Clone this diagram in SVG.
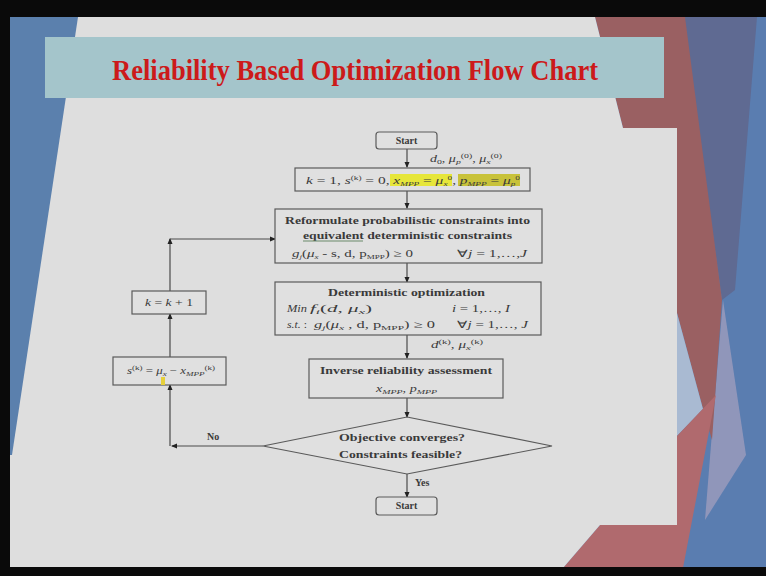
<svg xmlns="http://www.w3.org/2000/svg" width="766" height="576" viewBox="0 0 766 576">
<style>
.t{font-family:"Liberation Serif","Times New Roman",serif;fill:#3a3a3a;font-size:10px}
.b{font-weight:bold}
.i{font-style:italic}
.box{fill:#e0e0e0;stroke:#5a5a5a;stroke-width:1.2}
.ln{fill:none;stroke:#4a4a4a;stroke-width:1.2}
</style>
<defs>
<marker id="ah" markerWidth="6" markerHeight="6" refX="5" refY="3" orient="auto" markerUnits="userSpaceOnUse">
<path d="M0,0.5 L6,3 L0,5.5 z" fill="#222"/>
</marker>
</defs>
<g id="background">
<rect x="0" y="0" width="766" height="576" fill="#5a7db0"/>
<polygon points="683,17 757,17 735,290 722,300" fill="#5f6a92"/>
<polygon points="723,300 746,455 705,520 713,420" fill="#a39fbd" opacity="0.75"/>
<polygon points="595,17 685,17 722,300 712,440 703,409 677,313 677,128 623,128" fill="#9a6062"/>
<polygon points="677,313 703,409 677,436" fill="#a9bad2"/>
<polygon points="600,525 677,525 677,436 716,395 683,568 563,568" fill="#b06a6e"/>
<polygon points="10,17 595,17 623,128 677,128 677,525 600,525 563,568 10,568" fill="#dedede"/>
<polygon points="10,17 78,17 12,455 10,455" fill="#5b80ad"/>
<rect x="0" y="0" width="766" height="17" fill="#0a0a0a"/>
<rect x="0" y="567" width="766" height="9" fill="#0a0a0a"/>
<rect x="0" y="0" width="10" height="576" fill="#0a0a0a"/>
</g>
<g id="title">
<rect x="45" y="37" width="619" height="61" fill="#a4c5cb"/>
<text x="112" y="80" font-family="Liberation Serif, Times New Roman, serif" font-weight="bold" font-size="29" fill="#cc1a1a" textLength="486" lengthAdjust="spacingAndGlyphs">Reliability Based Optimization Flow Chart</text>
</g>
<g id="connectors">
<line class="ln" x1="407" y1="149" x2="407" y2="167" marker-end="url(#ah)"/>
<line class="ln" x1="407" y1="191" x2="407" y2="208" marker-end="url(#ah)"/>
<line class="ln" x1="407" y1="263" x2="407" y2="282" marker-end="url(#ah)"/>
<line class="ln" x1="407" y1="335" x2="407" y2="358" marker-end="url(#ah)"/>
<line class="ln" x1="407" y1="398" x2="407" y2="417" marker-end="url(#ah)"/>
<line class="ln" x1="407" y1="474" x2="407" y2="497" marker-end="url(#ah)"/>
<polyline class="ln" points="263,446 172,446" marker-end="url(#ah)"/>
<line class="ln" x1="170" y1="446" x2="170" y2="385" marker-end="url(#ah)"/>
<line class="ln" x1="170" y1="357" x2="170" y2="314" marker-end="url(#ah)"/>
<line class="ln" x1="170" y1="291" x2="170" y2="239" marker-end="url(#ah)"/>
<line class="ln" x1="170" y1="239" x2="275" y2="239" marker-end="url(#ah)"/>
<text class="t" x="430" y="162" textLength="72" lengthAdjust="spacingAndGlyphs"><tspan class="i">d</tspan><tspan font-size="7" dy="2">0</tspan><tspan dy="-2">, </tspan><tspan class="i">μ</tspan><tspan font-size="7" dy="2" class="i">p</tspan><tspan font-size="7" dy="-6">(0)</tspan><tspan dy="4">, </tspan><tspan class="i">μ</tspan><tspan font-size="7" dy="2" class="i">x</tspan><tspan font-size="7" dy="-6">(0)</tspan></text>
<text class="t" x="431" y="348" textLength="52" lengthAdjust="spacingAndGlyphs"><tspan class="i">d</tspan><tspan font-size="7" dy="-4">(k)</tspan><tspan dy="4">, </tspan><tspan class="i">μ</tspan><tspan font-size="7" dy="2" class="i">x</tspan><tspan font-size="7" dy="-6">(k)</tspan></text>
<text class="t b" x="207" y="440">No</text>
<text class="t b" x="415" y="486">Yes</text>
</g>
<g id="start">
<rect class="box" x="376" y="132" width="61" height="17" rx="3"/>
<text class="t b" x="406.5" y="144" font-size="8" text-anchor="middle">Start</text>
</g>
<g id="init">
<rect class="box" x="295" y="168" width="235" height="23"/>
<rect x="390" y="174" width="62" height="12" fill="#e6e63a"/>
<rect x="458" y="174" width="62" height="12" fill="#c8c23a"/>
<text class="t" x="306" y="184" textLength="214" lengthAdjust="spacingAndGlyphs"><tspan class="i">k</tspan> = 1, <tspan class="i">s</tspan><tspan font-size="6" dy="-4">(k)</tspan><tspan dy="4"> = 0, </tspan><tspan class="i">x</tspan><tspan font-size="6" dy="2" class="i">MPP</tspan><tspan dy="-2"> = </tspan><tspan class="i">μ</tspan><tspan font-size="6" dy="2" class="i">x</tspan><tspan font-size="6" dy="-6">0</tspan><tspan dy="4">, </tspan><tspan class="i">p</tspan><tspan font-size="6" dy="2" class="i">MPP</tspan><tspan dy="-2"> = </tspan><tspan class="i">μ</tspan><tspan font-size="6" dy="2" class="i">p</tspan><tspan font-size="6" dy="-6">0</tspan></text>
</g>
<g id="reformulate">
<rect class="box" x="275" y="209" width="267" height="54"/>
<text class="t b" x="285" y="224" textLength="245" lengthAdjust="spacingAndGlyphs">Reformulate probabilistic  constraints into</text>
<text class="t b" x="303" y="239" textLength="209" lengthAdjust="spacingAndGlyphs">equivalent deterministic constraints</text>
<line x1="303" y1="241" x2="363" y2="241" stroke="#6a8a6a" stroke-width="1"/>
<text class="t" x="292" y="257" textLength="121" lengthAdjust="spacingAndGlyphs"><tspan class="i">g</tspan><tspan font-size="6" dy="2" class="i">j</tspan><tspan dy="-2">(</tspan><tspan class="i">μ</tspan><tspan font-size="6" dy="2" class="i">x</tspan><tspan dy="-2"> - s, d, p</tspan><tspan font-size="6" dy="2">MPP</tspan><tspan dy="-2">) ≥ 0</tspan></text>
<text class="t" x="457" y="257" textLength="70" lengthAdjust="spacingAndGlyphs">∀<tspan class="i">j</tspan> = 1,…,<tspan class="i">J</tspan></text>
</g>
<g id="optimize">
<rect class="box" x="275" y="282" width="266" height="53"/>
<text class="t b" x="328" y="296" textLength="157" lengthAdjust="spacingAndGlyphs">Deterministic optimization</text>
<text class="t i" x="287" y="312" textLength="20" lengthAdjust="spacingAndGlyphs">Min</text>
<text class="t" x="310" y="312" textLength="62" lengthAdjust="spacingAndGlyphs"><tspan class="i">f</tspan><tspan font-size="7" dy="2" class="i">i</tspan><tspan dy="-2">(</tspan><tspan class="i">d</tspan>, <tspan class="i">μ</tspan><tspan font-size="7" dy="2" class="i">x</tspan><tspan dy="-2">)</tspan></text>
<text class="t" x="452" y="312" textLength="58" lengthAdjust="spacingAndGlyphs"><tspan class="i">i</tspan> = 1,…, <tspan class="i">I</tspan></text>
<text class="t" x="287" y="328" textLength="20" lengthAdjust="spacingAndGlyphs"><tspan class="i">s.t.</tspan> :</text>
<text class="t" x="314" y="328" textLength="121" lengthAdjust="spacingAndGlyphs"><tspan class="i">g</tspan><tspan font-size="7" dy="2" class="i">j</tspan><tspan dy="-2">(</tspan><tspan class="i">μ</tspan><tspan font-size="7" dy="2" class="i">x</tspan><tspan dy="-2"> , d, p</tspan><tspan font-size="7" dy="2">MPP</tspan><tspan dy="-2">) ≥ 0</tspan></text>
<text class="t" x="457" y="328" textLength="71" lengthAdjust="spacingAndGlyphs">∀<tspan class="i">j</tspan> = 1,…, <tspan class="i">J</tspan></text>
</g>
<g id="inverse">
<rect class="box" x="309" y="359" width="194" height="39"/>
<text class="t b" x="320" y="374" textLength="172" lengthAdjust="spacingAndGlyphs">Inverse reliability assessment</text>
<text class="t" x="376" y="392" textLength="61" lengthAdjust="spacingAndGlyphs"><tspan class="i">x</tspan><tspan font-size="7" dy="2" class="i">MPP</tspan><tspan dy="-2">, </tspan><tspan class="i">p</tspan><tspan font-size="7" dy="2" class="i">MPP</tspan></text>
</g>
<g id="decision">
<polygon class="box" points="407,417 552,446 407,474 263,446"/>
<text class="t b" x="339" y="441" textLength="126" lengthAdjust="spacingAndGlyphs">Objective converges?</text>
<text class="t b" x="339" y="458" textLength="123" lengthAdjust="spacingAndGlyphs">Constraints feasible?</text>
</g>
<g id="end">
<rect class="box" x="376" y="497" width="61" height="18" rx="3"/>
<text class="t b" x="406.5" y="509" font-size="8" text-anchor="middle">Start</text>
</g>
<g id="update_s">
<rect class="box" x="113" y="357" width="113" height="28"/>
<rect x="161" y="377" width="4" height="8" fill="#e6d03a"/>
<text class="t" x="127" y="374" textLength="88" lengthAdjust="spacingAndGlyphs"><tspan class="i">s</tspan><tspan font-size="7" dy="-4">(k)</tspan><tspan dy="4"> = </tspan><tspan class="i">μ</tspan><tspan font-size="7" dy="2" class="i">x</tspan><tspan dy="-2"> − </tspan><tspan class="i">x</tspan><tspan font-size="7" dy="2" class="i">MPP</tspan><tspan font-size="7" dy="-6">(k)</tspan></text>
</g>
<g id="increment">
<rect class="box" x="132" y="291" width="74" height="23"/>
<text class="t" x="145" y="306" textLength="48" lengthAdjust="spacingAndGlyphs"><tspan class="i">k</tspan> = <tspan class="i">k</tspan> + 1</text>
</g>
</svg>
